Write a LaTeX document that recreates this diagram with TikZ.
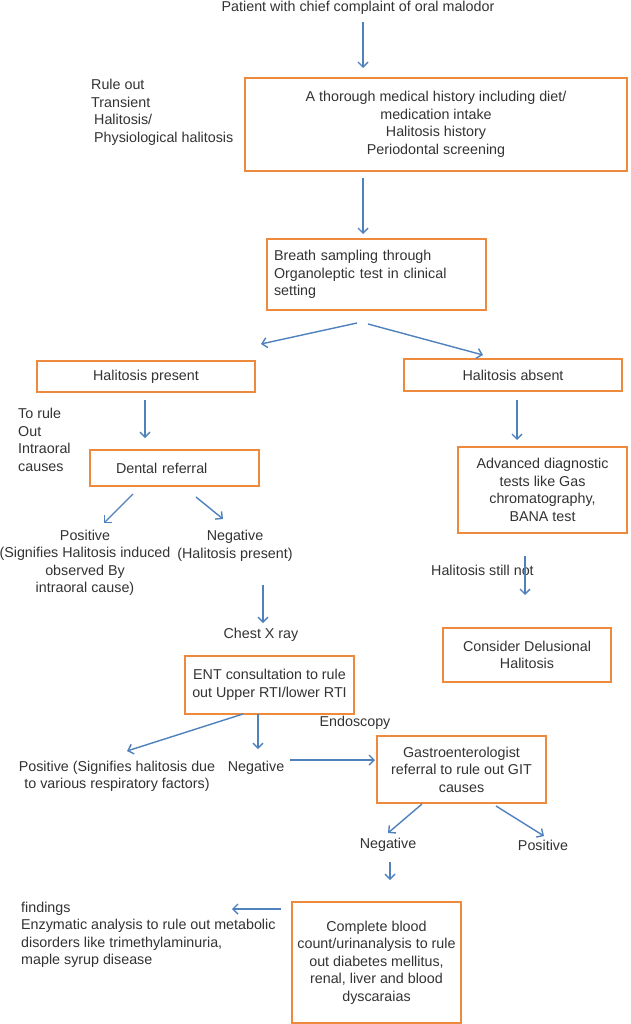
\documentclass[tikz,border=0pt]{standalone}
\usepackage{fontspec}
\setmainfont{Liberation Sans}
\usetikzlibrary{arrows.meta}
\definecolor{boxorange}{HTML}{EE8A3E}
\definecolor{arrblue}{HTML}{4F81BD}
\definecolor{txtgray}{HTML}{333333}
\begin{document}
\begin{tikzpicture}[x=1pt,y=-1pt,
  every node/.style={font=\fontsize{14.3}{17.5}\selectfont, text=txtgray, inner sep=0pt},
  box/.style={draw=boxorange, line width=2.2pt, align=center},
  arr/.style={draw=arrblue, line width=1.4pt, -{Straight Barb[length=5pt,width=10pt]}}]
\fill[white] (0,0) rectangle (630,1024);
\useasboundingbox (0,0) rectangle (630,1024);

% boxes
\node[box, minimum width=382, minimum height=93] (b1) at (436,124.5)
  {A thorough medical history including diet/\\medication intake\\Halitosis history\\Periodontal screening};
\node[box, align=left, text width=205, inner xsep=7pt, minimum height=71] (b2) at (376.5,274.5)
  {Breath sampling through\\Organoleptic test in clinical\\setting};
\node[box, minimum width=218, minimum height=31] (pres) at (146,376.5) {Halitosis present};
\node[box, minimum width=218, minimum height=32] (abs) at (513,375) {Halitosis absent};
\node[box, align=left, text width=117, inner xsep=26pt, minimum height=36] (dent) at (174.5,468) {Dental referral};
\node[box, minimum width=169, minimum height=86] (adv) at (542.5,490)
  {Advanced diagnostic\\tests like Gas\\chromatography,\\BANA test};
\node[box, minimum width=168, minimum height=54] (cons) at (527,655)
  {Consider Delusional\\Halitosis};
\node[box, minimum width=169, minimum height=58] (ent) at (269.5,685)
  {ENT consultation to rule\\out Upper RTI/lower RTI};
\node[box, minimum width=169, minimum height=67] (gas) at (461.5,769.5)
  {Gastroenterologist\\referral to rule out GIT\\causes};
\node[box, minimum width=169, minimum height=121] (cbc) at (376.5,962.5)
  {Complete blood\\count/urinanalysis to rule\\out diabetes mellitus,\\renal, liver and blood\\dyscaraias};

% free text
\node (title) at (358,8) {Patient with chief complaint of oral malodor};
\node[anchor=west, align=left] (note1) at (91,112.5)
  {Rule out\\Transient\\\hspace{3pt}Halitosis/\\\hspace{3pt}Physiological halitosis};
\node[anchor=west, align=left] (note2) at (18,440) {To rule\\Out\\Intraoral\\causes};
\node[align=center] (pos1) at (85,563)
  {Positive\\(Signifies Halitosis induced\\observed By\\intraoral cause)};
\node[align=center] (neg1) at (235,546) {Negative\\(Halitosis present)};
\node[anchor=west] (still) at (431,570) {Halitosis still not};
\node (chest) at (261,635) {Chest X ray};
\node (endo) at (355,723) {Endoscopy};
\node[align=center] (pos2) at (117,776.5)
  {Positive (Signifies halitosis due\\to various respiratory factors)};
\node (neg2) at (256,768) {Negative};
\node (neg3) at (388,845) {Negative};
\node (pos3) at (543,845) {Positive};
\node[anchor=west, align=left] (find) at (21,935)
  {findings\\Enzymatic analysis to rule out metabolic\\disorders like trimethylaminuria,\\maple syrup disease};

% connector end points
\coordinate (a1s) at (363,22);   \coordinate (a1e) at (363,68);
\coordinate (a2s) at (363,178);  \coordinate (a2e) at (363,234);
\coordinate (a3s) at (357,323);  \coordinate (a3e) at (261,344);
\coordinate (a4s) at (368,324);  \coordinate (a4e) at (483,355);
\coordinate (a5s) at (145,400);  \coordinate (a5e) at (145,438);
\coordinate (a6s) at (517,400);  \coordinate (a6e) at (517,440);
\coordinate (a7s) at (133,494);  \coordinate (a7e) at (104,523);
\coordinate (a8s) at (196,497);  \coordinate (a8e) at (223,519);
\coordinate (a9s) at (525,556);  \coordinate (a9e) at (525,595);
\coordinate (a10s) at (263,585); \coordinate (a10e) at (263,623);
\coordinate (a11s) at (243,714); \coordinate (a11e) at (127,751);
\coordinate (a12s) at (258,714); \coordinate (a12e) at (258,749);
\coordinate (a13s) at (290,760); \coordinate (a13e) at (375,760);
\coordinate (a14s) at (422,804); \coordinate (a14e) at (388,833);
\coordinate (a15s) at (496,806); \coordinate (a15e) at (544,836);
\coordinate (a16s) at (390,862); \coordinate (a16e) at (390,880);
\coordinate (a17s) at (281,909); \coordinate (a17e) at (232,909);

\foreach \i in {1,...,17} { \draw[arr] (a\i s) -- (a\i e); }
\end{tikzpicture}
\end{document}
